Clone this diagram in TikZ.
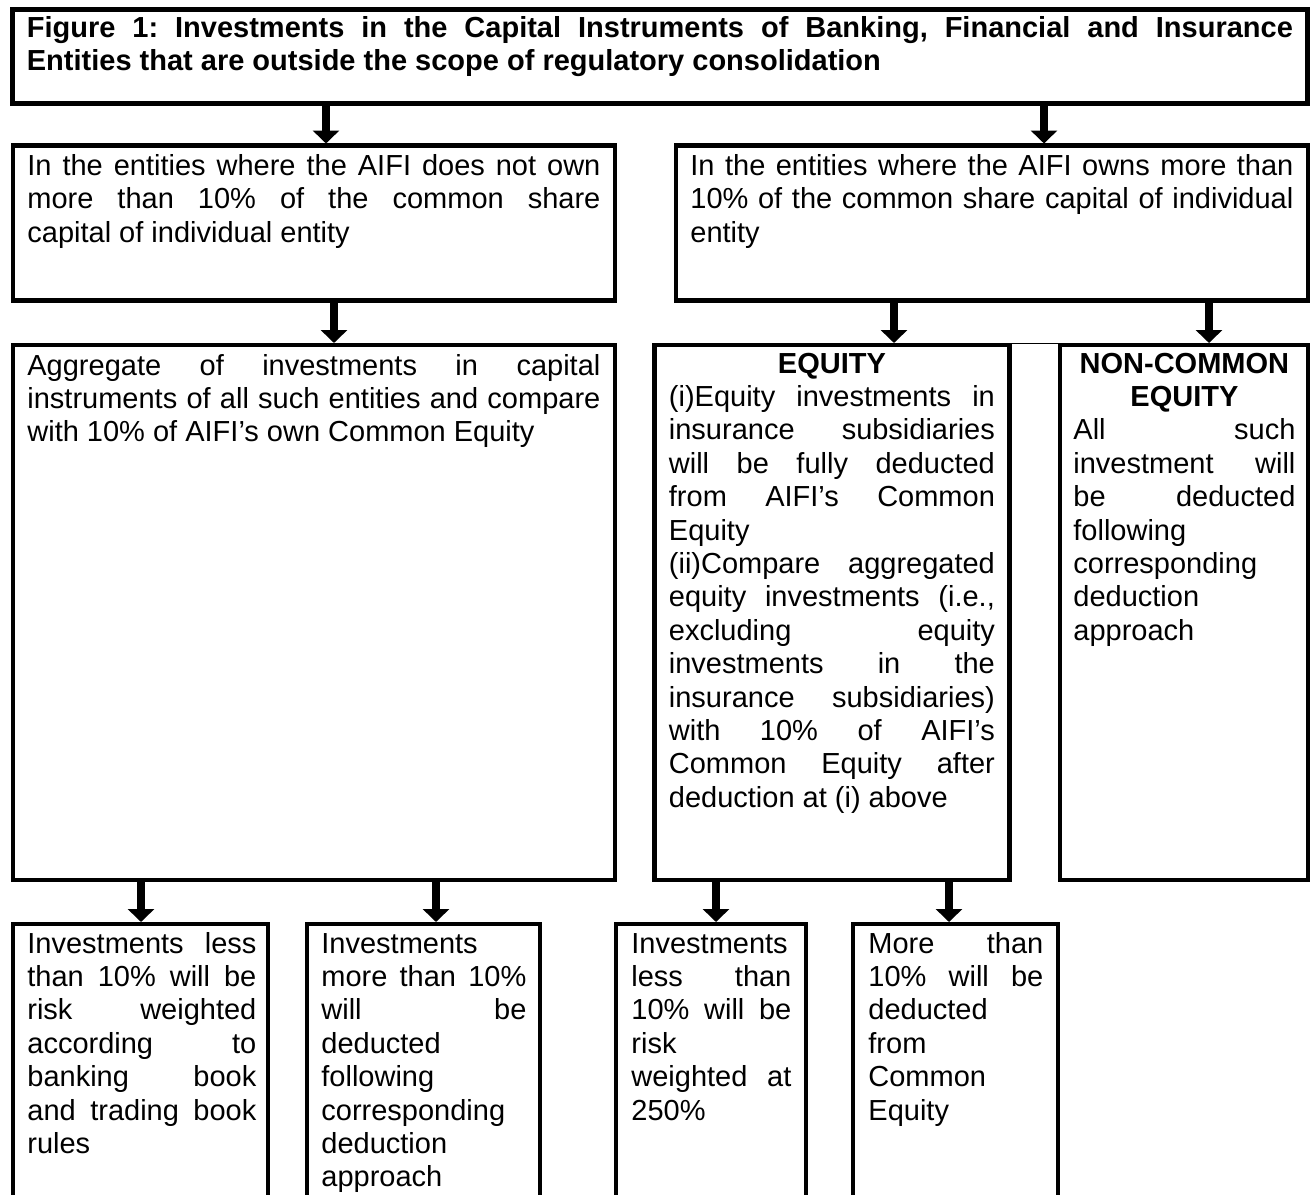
\documentclass[tikz,border=0pt]{standalone}
\usepackage{fontspec}
\setmainfont{Liberation Sans}
\usetikzlibrary{arrows.meta}
\newcommand\fs{\fontsize{14.5pt}{16.7pt}\selectfont}
\tolerance=10000
\hbadness=10000
\hyphenpenalty=10000
\exhyphenpenalty=10000
\frenchspacing

\begin{document}
\begin{tikzpicture}[x=0.5pt,y=-0.5pt,
  box/.style={draw, line width=2.2pt, anchor=north west, inner sep=0pt, outer sep=0pt},
  txt/.style={anchor=base west, inner sep=0pt, align=justify, font=\fs},
  arr/.style={line width=4pt, -{Triangle[width=13pt,length=6.5pt]}, shorten >=1pt}]
\useasboundingbox (0,0) rectangle (1311,1194);
\clip (0,0) rectangle (1311,1194);

% Titre
\node[box, minimum width=647.5pt, minimum height=47pt] (title) at (12.5,9.5) {};
\node[txt, text width=633pt] (titletext) at ([shift={(7pt,-14pt)}]title.north west)
  {\bfseries Figure 1: Investments in the Capital Instruments of Banking, Financial and Insurance\linebreak
   Entities that are outside the scope of regulatory consolidation};

% Deuxieme rangee
\node[box, minimum width=301pt, minimum height=77.5pt] (leftA) at (13,145.5) {};
\node[txt, text width=286.5pt] (leftAtext) at ([shift={(7pt,-15pt)}]leftA.north west)
  {In the entities where the AIFI does not own\linebreak
   more than 10\% of the common share\linebreak
   capital of individual entity};
\node[box, minimum width=316pt, minimum height=77.5pt] (rightA) at (676,145.5) {};
\node[txt, text width=301.5pt] (rightAtext) at ([shift={(7pt,-15pt)}]rightA.north west)
  {In the entities where the AIFI owns more than\linebreak
   10\% of the common share capital of individual\linebreak
   entity};

% Troisieme rangee
\node[box, minimum width=301pt, minimum height=267.5pt] (agg) at (13,345) {};
\node[txt, text width=286.5pt] (aggtext) at ([shift={(7pt,-15pt)}]agg.north west)
  {Aggregate of investments in capital\linebreak
   instruments of all such entities and compare\linebreak
   with 10\% of AIFI’s own Common Equity};
\node[box, minimum width=177.5pt, minimum height=267.5pt] (equity) at (654.5,345) {};
\node[txt, text width=163pt] (equitytext) at ([shift={(7pt,-14pt)}]equity.north west)
  {{\centering\bfseries EQUITY\par}
   (i)Equity investments in\linebreak
   insurance subsidiaries\linebreak
   will be fully deducted\linebreak
   from AIFI’s Common\linebreak
   Equity\par
   (ii)Compare aggregated\linebreak
   equity investments (i.e.,\linebreak
   excluding equity\linebreak
   investments in the\linebreak
   insurance subsidiaries)\linebreak
   with 10\% of AIFI’s\linebreak
   Common Equity after\linebreak
   deduction at (i) above};
\node[box, minimum width=124pt, minimum height=267.5pt] (noncom) at (1060,345) {};
\node[txt, text width=111pt] (noncomtext) at ([shift={(6.5pt,-14pt)}]noncom.north west)
  {{\centering\bfseries NON-COMMON\\EQUITY\par}
   All such\linebreak
   investment will\linebreak
   be deducted\linebreak
   following\linebreak
   corresponding\linebreak
   deduction\linebreak
   approach};
\draw[line width=0.6pt] ([yshift=0.8pt]equity.north east) -- ([yshift=0.8pt]noncom.north west);

% Derniere rangee (coupee en bas)
\node[box, minimum width=127.5pt, minimum height=158pt] (lessA) at (13,924) {};
\node[txt, text width=114.5pt] (lessAtext) at ([shift={(7pt,-14.5pt)}]lessA.north west)
  {Investments less\linebreak
   than 10\% will be\linebreak
   risk weighted\linebreak
   according to\linebreak
   banking book\linebreak
   and trading book\linebreak
   rules};
\node[box, minimum width=116.5pt, minimum height=158pt] (moreA) at (307,924) {};
\node[txt, text width=102.5pt] (moreAtext) at ([shift={(7pt,-14.5pt)}]moreA.north west)
  {Investments\linebreak
   more than 10\%\linebreak
   will be\linebreak
   deducted\linebreak
   following\linebreak
   corresponding\linebreak
   deduction\linebreak
   approach};
\node[box, minimum width=95pt, minimum height=158pt] (lessB) at (616,924) {};
\node[txt, text width=80pt] (lessBtext) at ([shift={(7.5pt,-14.5pt)}]lessB.north west)
  {Investments\linebreak
   less than\linebreak
   10\% will be\linebreak
   risk\linebreak
   weighted at\linebreak
   250\%};
\node[box, minimum width=102.5pt, minimum height=158pt] (moreB) at (853,924) {};
\node[txt, text width=87.5pt] (moreBtext) at ([shift={(7.5pt,-14.5pt)}]moreB.north west)
  {More than\linebreak
   10\% will be\linebreak
   deducted\linebreak
   from\linebreak
   Common\linebreak
   Equity};

% Fleches
\draw[arr] (326,0 |- title.south) -- (326,0 |- leftA.north);
\draw[arr] (1044,0 |- title.south) -- (1044,0 |- rightA.north);
\draw[arr] (334,0 |- leftA.south) -- (334,0 |- agg.north);
\draw[arr] (894,0 |- rightA.south) -- (894,0 |- equity.north);
\draw[arr] (1209,0 |- rightA.south) -- (1209,0 |- noncom.north);
\draw[arr] (141,0 |- agg.south) -- (141,0 |- lessA.north);
\draw[arr] (436,0 |- agg.south) -- (436,0 |- moreA.north);
\draw[arr] (716,0 |- equity.south) -- (716,0 |- lessB.north);
\draw[arr] (949,0 |- equity.south) -- (949,0 |- moreB.north);

\end{tikzpicture}
\end{document}
